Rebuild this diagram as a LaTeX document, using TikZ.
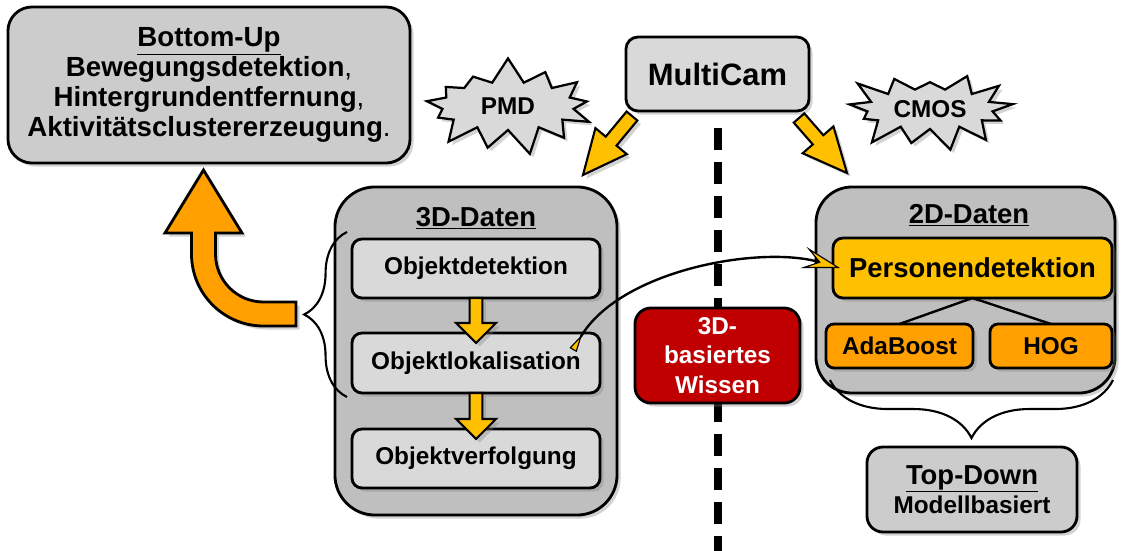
\documentclass[tikz,border=0pt]{standalone}
\usepackage{fontspec}
\setmainfont{Liberation Sans}
\usetikzlibrary{calc,shapes.symbols,shadows,arrows.meta,decorations.pathreplacing}

\definecolor{lightbox}{RGB}{217,217,217}
\definecolor{midbox}{RGB}{204,204,204}
\definecolor{groupbox}{RGB}{191,191,191}
\definecolor{yellowA}{RGB}{255,192,0}
\definecolor{orangeA}{RGB}{255,160,0}
\definecolor{redA}{RGB}{192,0,0}

\newcommand\bodyfont{\fontsize{17.3}{21}\selectfont\bfseries}
\newcommand\titlefont{\fontsize{19.5}{22}\selectfont\bfseries}

\tikzset{
  shadowed/.style={drop shadow={shadow xshift=2.5pt,shadow yshift=-2.5pt,opacity=0.35}},
  plainbox/.style={draw=black, line width=2pt, inner sep=0pt, outer sep=0pt,
    align=center, shadowed},
  lbox/.style={plainbox, fill=lightbox, rounded corners=0.25cm, font=\bodyfont},
  groupbx/.style={plainbox, fill=groupbox, rounded corners=1cm},
  infobox/.style={plainbox, fill=midbox, rounded corners=0.6cm},
  persbox/.style={plainbox, fill=yellowA, rounded corners=0.25cm, font=\titlefont},
  methbox/.style={plainbox, fill=orangeA, rounded corners=0.2cm, font=\bodyfont},
  knowbox/.style={plainbox, fill=redA, rounded corners=0.4cm, font=\bodyfont,
    text=white},
  burst/.style={starburst, draw=black, line width=1.6pt, fill=lightbox,
    starburst points=13, starburst point height=0.65cm, random starburst=7,
    inner sep=0pt, font=\bodyfont, shadowed},
  blockar/.style={draw=black, line width=1.5pt, line join=miter, fill=yellowA,
    shadowed},
  bigarrow/.style={draw=black, line width=2pt, line join=miter, fill=orangeA,
    shadowed},
  divider/.style={line width=0.2cm, dash pattern=on 0.55cm off 0.3cm},
  bracedeco/.style={line width=1.5pt, decorate,
    decoration={brace, amplitude=#1}},
  curvecon/.style={line width=1.7pt,
    {Triangle[reversed, length=0.45cm, width=0.2cm, fill=yellowA, line width=0.8pt]}-{Stealth[length=0.95cm, width=0.55cm, inset=0.4cm, fill=yellowA, line width=0.8pt]}}
}

% #1 from, #2 to, #3 shaft half width, #4 head half width, #5 head length
\newcommand\blockarrow[5]{%
  \coordinate (ba-c) at ($(#2)!#5!(#1)$);
  \draw[blockar] ($(#1)!#3!90:(#2)$) -- ($(ba-c)!#3!90:(#2)$)
    -- ($(ba-c)!#4!90:(#2)$) -- (#2) -- ($(ba-c)!#4!-90:(#2)$)
    -- ($(ba-c)!#3!-90:(#2)$) -- ($(#1)!#3!-90:(#2)$) -- cycle;
}

\begin{document}
\begin{tikzpicture}[x=0.025cm, y=-0.025cm]
\useasboundingbox (0, 0) rectangle (1121, 551);

\draw[divider] (718, 128) -- (718, 551);

\node[infobox, minimum width=10.05cm, minimum height=3.9cm,
  font=\fontsize{19.7}{21.5}\selectfont\bfseries] at (209, 85) (bu)
  {\underline{Bottom-Up}\\Bewegungsdetektion{\mdseries,}\\
   Hintergrundentfernung{\mdseries,}\\Aktivitätsclustererzeugung{\mdseries.}};
\node[lbox, minimum width=4.575cm, minimum height=1.85cm,
  font=\fontsize{22}{24}\selectfont\bfseries, rounded corners=0.3cm] at (717.5, 74) (mc) {MultiCam};
\node[burst, minimum width=4.6cm, minimum height=2.5cm] at (508, 106) (pmd) {PMD};
\node[burst, minimum width=4.45cm, minimum height=2.3cm, random starburst=23] at (930, 109) (cmos) {CMOS};

\node[groupbx, minimum width=7.05cm, minimum height=8.2cm] at (476, 351) (g3d) {};
\node[font=\titlefont] at (476, 218) (t3d) {\underline{3D-Daten}};
\node[lbox, minimum width=6.2cm, minimum height=1.475cm] at (476, 268.5) (det) {Objektdetektion};
\node[lbox, minimum width=6.2cm, minimum height=1.5cm] at (476, 363) (lok) {Objektlokalisation};
\node[lbox, minimum width=6.2cm, minimum height=1.475cm] at (476, 458.5) (ver) {Objektverfolgung};

\node[groupbx, minimum width=7.475cm, minimum height=5.15cm, rounded corners=0.9cm] at (965.5, 290) (g2d) {};
\node[font=\titlefont] at (969, 215) (t2d) {\underline{2D-Daten}};
\node[persbox, minimum width=6.975cm, minimum height=1.5cm] at (972.5, 268) (pers) {Personendetektion};
\node[methbox, minimum width=3.675cm, minimum height=1.1cm] at (899.5, 346) (ada) {AdaBoost};
\node[methbox, minimum width=3.05cm, minimum height=1.1cm] at (1051, 346) (hog) {HOG};

\node[knowbox, minimum width=4.125cm, minimum height=2.375cm] at (717.5, 355.5) (wis)
  {3D-\\basiertes\\Wissen};

\node[infobox, minimum width=5.25cm, minimum height=2.125cm, rounded corners=0.4cm,
  font=\bodyfont] at (972, 489.5) (td)
  {{\titlefont\underline{Top-Down}}\\Modellbasiert};

\draw[line width=1.7pt] (pers.south) -- (ada.north)
                        (pers.south) -- (hog.north);

\coordinate (mcl) at ($(mc.south west)+(6, 5)$);
\coordinate (mcr) at ($(mc.south east)+(-10, 7)$);
\coordinate (g3tip) at (583, 175);
\coordinate (g2tip) at (847, 173);
\blockarrow{mcl}{g3tip}{0.175cm}{0.51cm}{1.1cm}
\blockarrow{mcr}{g2tip}{0.175cm}{0.51cm}{1.1cm}

\coordinate (lokin) at ($(lok.north)+(0, 10)$);
\coordinate (verin) at ($(ver.north)+(0, 10)$);
\blockarrow{det.south}{lokin}{0.16cm}{0.5cm}{0.5cm}
\blockarrow{lok.south}{verin}{0.16cm}{0.5cm}{0.5cm}

\coordinate (br-top) at ($(det.north west)+(-5, -7)$);
\coordinate (br-bot) at ($(lok.south west)+(-5, 4)$);
\draw[bracedeco=1.07cm] (br-bot) -- (br-top);
\coordinate (br2-l) at ($(g2d.south west)+(14, -13)$);
\coordinate (br2-r) at ($(g2d.south east)+(-2, -13)$);
\draw[bracedeco=1.45cm] (br2-r) -- (br2-l);

\draw[bigarrow] (296, 302) -- (263.5, 302) .. controls (237, 302) and (215.5, 280.5) .. (215.5, 254)
  -- (215.5, 233) -- (242, 233) -- (203.5, 170) -- (165, 233) -- (191.5, 233) -- (191.5, 254)
  .. controls (191.5, 293.8) and (223.7, 326) .. (263.5, 326) -- (296, 326) -- cycle;

\coordinate (cstart) at ($(lok.north east)+(-27, 17)$);
\coordinate (cend) at ($(pers.west)+(7, 0)$);
\draw[curvecon] (cstart) .. controls (620, 270) and (760, 245) .. (cend);
\end{tikzpicture}
\end{document}
